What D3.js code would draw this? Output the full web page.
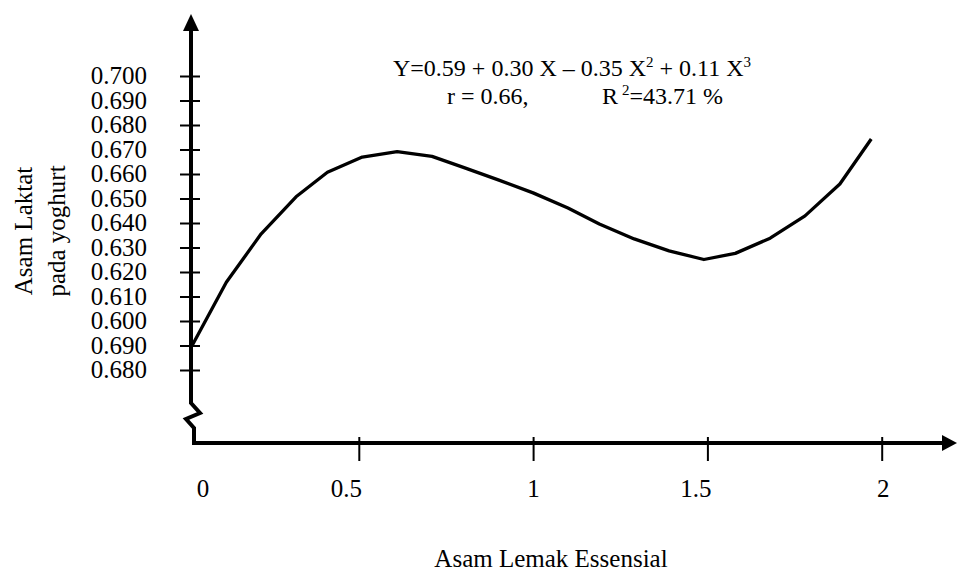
<!DOCTYPE html>
<html>
<head>
<meta charset="utf-8">
<script src="https://cdn.jsdelivr.net/npm/d3@7"></script>
<style>
body { margin: 0; background: #fff; }
svg text { font-family: "Liberation Serif", "DejaVu Serif", serif; fill: #000; }
</style>
</head>
<body>
<div id="chart"></div>
<script>
var WIDTH = 957;
var HEIGHT = 573;

// curve (x in axis units, y in axis units)
var xValues = [0.02, 0.12, 0.22, 0.32, 0.41, 0.51, 0.61, 0.71, 0.80, 0.90, 1.00,
               1.10, 1.19, 1.29, 1.39, 1.49, 1.58, 1.68, 1.78, 1.88, 1.97];
var yValues = [0.5895, 0.6158, 0.6356, 0.6507, 0.6607, 0.6669, 0.6691, 0.6672, 0.6627, 0.6576, 0.6523,
               0.6461, 0.6396, 0.6335, 0.6286, 0.6251, 0.6276, 0.6338, 0.6429, 0.6559, 0.6743];

var xTicks = [0, 0.5, 1, 1.5, 2];
var xTickLabels = ["0", "0.5", "1", "1.5", "2"];
var yTicks = [0.58, 0.59, 0.60, 0.61, 0.62, 0.63, 0.64, 0.65, 0.66, 0.67, 0.68, 0.69, 0.70];
// labels as printed, bottom to top
var yTickLabels = ["0.680", "0.690", "0.600", "0.610", "0.620", "0.630", "0.640",
                   "0.650", "0.660", "0.670", "0.680", "0.690", "0.700"];

var xTitle = "Asam Lemak Essensial";
var yTitle = ["Asam Laktat", "pada yoghurt"];

var AXIS_X = 191;
var AXIS_Y = 443;

var x = d3.scaleLinear().domain([0, 2]).range([184.5, 881.7]);
var y = d3.scaleLinear().domain([0.58, 0.70]).range([370, 76]);

function drawAxes(svg) {
    // y axis with break
    var bottom = y.range()[0];
    svg.append("path")
        .attr("d", "M" + AXIS_X + ",28 L" + AXIS_X + "," + (bottom + 33) +
            " L" + (AXIS_X + 9) + "," + (bottom + 43) +
            " L" + (AXIS_X - 5) + "," + (bottom + 49) +
            " L" + (AXIS_X + 3) + "," + (bottom + 58) +
            " L" + (AXIS_X + 3) + "," + (AXIS_Y + 2))
        .attr("fill", "none").attr("stroke", "#000").attr("stroke-width", 4);
    svg.append("path")
        .attr("d", "M" + AXIS_X + ",14 L" + (AXIS_X - 8) + ",31 L" + (AXIS_X + 8) + ",31 Z")
        .attr("fill", "#000");

    // x axis
    svg.append("line")
        .attr("x1", AXIS_X + 1).attr("x2", 945)
        .attr("y1", AXIS_Y).attr("y2", AXIS_Y)
        .attr("stroke", "#000").attr("stroke-width", 4);
    svg.append("path")
        .attr("d", "M957," + AXIS_Y + " L942," + (AXIS_Y - 8) + " L942," + (AXIS_Y + 8) + " Z")
        .attr("fill", "#000");

    var yAxis = d3.axisLeft(y)
        .tickValues(yTicks)
        .tickFormat(function (d, i) { return yTickLabels[i]; });
    var gy = svg.append("g").attr("transform", "translate(" + AXIS_X + ",0)").call(yAxis);
    gy.select(".domain").remove();
    gy.selectAll(".tick line")
        .attr("x1", -11).attr("x2", 9)
        .attr("stroke", "#000").attr("stroke-width", 2);
    gy.selectAll(".tick text")
        .attr("x", -44).attr("dy", "0.3em")
        .attr("font-size", 25)
        .attr("font-family", null);

    var nudge = [18, -13, 0, -12, 1];
    var xAxis = d3.axisBottom(x)
        .tickValues(xTicks)
        .tickFormat(function (d, i) { return xTickLabels[i]; });
    var gx = svg.append("g").attr("transform", "translate(0," + AXIS_Y + ")").call(xAxis);
    gx.select(".domain").remove();
    gx.selectAll(".tick line")
        .attr("y1", -6).attr("y2", 18)
        .attr("stroke", "#000").attr("stroke-width", 2)
        .attr("display", function (d) { return d === 0 ? "none" : null; });
    gx.selectAll(".tick text")
        .attr("y", 54).attr("dy", 0)
        .attr("dx", function (d, i) { return nudge[i]; })
        .attr("font-size", 25)
        .attr("font-family", null);
}

function drawTitles(svg) {
    svg.append("text")
        .attr("x", 551).attr("y", 567)
        .attr("text-anchor", "middle")
        .attr("font-size", 25)
        .text(xTitle);
    var bases = [32, 65];
    for (var i = 0; i < yTitle.length; i++) {
        svg.append("text")
            .attr("transform", "translate(" + bases[i] + ",231) rotate(-90)")
            .attr("text-anchor", "middle")
            .attr("font-size", 25)
            .text(yTitle[i]);
    }

    // regression equation
    var eq = svg.append("text").attr("x", 393).attr("y", 76).attr("font-size", 24);
    eq.append("tspan").text("Y=0.59 + 0.30 X \u2013 0.35 X");
    eq.append("tspan").attr("font-size", 15).attr("dy", -9).text("2");
    eq.append("tspan").attr("dy", 9).text(" + 0.11 X");
    eq.append("tspan").attr("font-size", 15).attr("dy", -9).text("3");

    svg.append("text").attr("x", 447).attr("y", 104).attr("font-size", 24)
        .text("r = 0.66,");
    var r2 = svg.append("text").attr("x", 602).attr("y", 104).attr("font-size", 24);
    r2.append("tspan").text("R");
    r2.append("tspan").attr("font-size", 15).attr("dy", -9).attr("dx", 4).text("2");
    r2.append("tspan").attr("dy", 9).text("=43.71 %");
}

function drawCurve(svg) {
    var pts = xValues.map(function (v, i) { return [v, yValues[i]]; });
    var line = d3.line()
        .x(function (d) { return x(d[0]); })
        .y(function (d) { return y(d[1]); });
    svg.append("path")
        .datum(pts)
        .attr("d", line)
        .attr("fill", "none")
        .attr("stroke", "#000")
        .attr("stroke-width", 3.3)
        .attr("stroke-linejoin", "round");
}

var svg = d3.select("#chart").append("svg")
    .attr("width", WIDTH)
    .attr("height", HEIGHT);
drawAxes(svg);
drawCurve(svg);
drawTitles(svg);
</script>
</body>
</html>
